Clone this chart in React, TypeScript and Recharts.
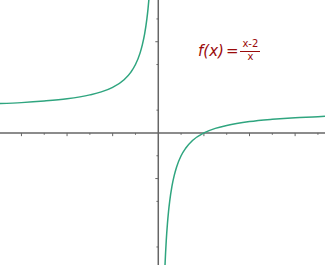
import React from "react";
import { LineChart, Line, XAxis, YAxis, ReferenceLine } from "recharts";

// left branch of f(x) = (x-2)/x
const leftX = [-6.94, -6, -5, -4, -3, -2.5, -2, -1.5, -1.2, -1, -0.8, -0.7, -0.6, -0.5, -0.45, -0.414];
const leftY = [1.29, 1.33, 1.4, 1.5, 1.67, 1.8, 2, 2.33, 2.67, 3, 3.5, 3.86, 4.33, 5, 5.44, 5.83];

// right branch
const rightX = [0.295, 0.32, 0.35, 0.4, 0.45, 0.5, 0.6, 0.7, 0.8, 1, 1.2, 1.5, 2, 2.5, 3, 4, 5, 6, 7, 7.31];
const rightY = [-5.79, -5.25, -4.71, -4, -3.44, -3, -2.33, -1.86, -1.5, -1, -0.67, -0.33, 0, 0.2, 0.33, 0.5, 0.6, 0.67, 0.71, 0.73];

const xTicks = [-6, -5, -4, -3, -2, -1, 1, 2, 3, 4, 5, 6, 7];
const yTicks = [5, 4, 3, 1, -1, -2, -3, -5];
const yLongTicks = [4, -2];

const xDomain: [number, number] = [-6.94, 7.31];
const yDomain: [number, number] = [-5.79, 5.83];

const leftData = leftX.map((x, i) => ({ x, y: leftY[i] }));
const rightData = rightX.map((x, i) => ({ x, y: rightY[i] }));

const AXIS = "#666";
const CURVE = "#2fa57f";
const TITLE = "#9a0a0a";

export default function App() {
  return (
    <div style={{ position: "relative", width: 325, height: 265, background: "#fff" }}>
      <style>{"body{margin:0}"}</style>
      <LineChart width={325} height={265} margin={{ top: 0, right: 0, bottom: 0, left: 0 }}>
        <XAxis type="number" dataKey="x" domain={xDomain} hide allowDataOverflow />
        <YAxis type="number" dataKey="y" domain={yDomain} hide allowDataOverflow />
        <ReferenceLine x={0} stroke={AXIS} strokeWidth={1.5} />
        <ReferenceLine y={0} stroke={AXIS} strokeWidth={1.5} />
        {xTicks.map((t) => (
          <ReferenceLine
            key={"xt" + t}
            segment={[
              { x: t, y: 0 },
              { x: t, y: t % 2 === 0 ? -0.14 : -0.08 },
            ]}
            stroke={AXIS}
            strokeWidth={1}
          />
        ))}
        {yTicks.map((t) => (
          <ReferenceLine
            key={"yt" + t}
            segment={[
              { x: yLongTicks.includes(t) ? -0.13 : -0.08, y: t },
              { x: 0, y: t },
            ]}
            stroke={AXIS}
            strokeWidth={1}
          />
        ))}
        <Line
          data={leftData}
          dataKey="y"
          type="monotone"
          stroke={CURVE}
          strokeWidth={1.5}
          dot={false}
          activeDot={false}
          isAnimationActive={false}
        />
        <Line
          data={rightData}
          dataKey="y"
          type="monotone"
          stroke={CURVE}
          strokeWidth={1.5}
          dot={false}
          activeDot={false}
          isAnimationActive={false}
        />
      </LineChart>
      <div
        style={{
          position: "absolute",
          left: 198,
          top: 39,
          color: TITLE,
          fontFamily: "'DejaVu Sans', sans-serif",
          display: "flex",
          alignItems: "center",
        }}
      >
        <span style={{ fontSize: 15, fontStyle: "italic" }}>f(x)</span>
        <span style={{ fontSize: 15, margin: "0 2px" }}>=</span>
        <span style={{ display: "inline-flex", flexDirection: "column", alignItems: "center", fontSize: 10, lineHeight: "10px" }}>
          <span style={{ padding: "0 2px" }}>x-2</span>
          <span style={{ borderTop: `1px solid ${TITLE}`, width: "100%", textAlign: "center", marginTop: 2 }}>x</span>
        </span>
      </div>
    </div>
  );
}
